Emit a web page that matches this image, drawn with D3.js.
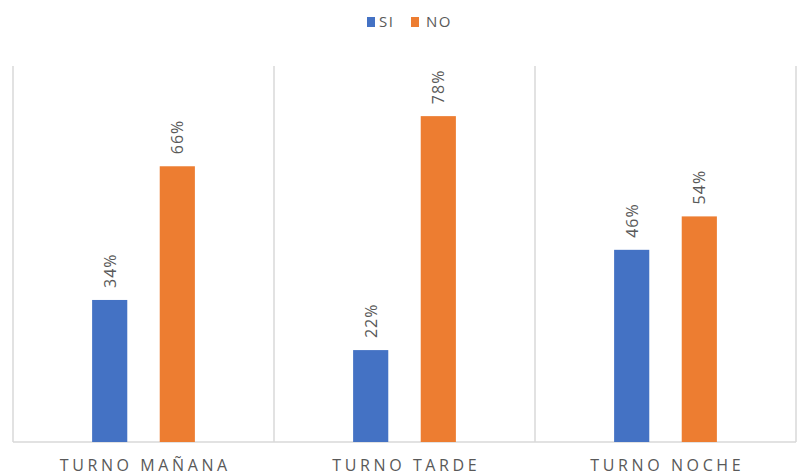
<!DOCTYPE html>
<html>
<head>
<meta charset="utf-8">
<script src="https://cdn.jsdelivr.net/npm/d3@7"></script>
<style>
  body { margin: 0; background: #fff; }
  svg { display: block; font-family: "Open Sans", "Liberation Sans", sans-serif; }
</style>
</head>
<body>
<svg id="chart" width="797" height="475"></svg>
<script>
// Survey answers by shift
const categories = ["TURNO MAÑANA", "TURNO TARDE", "TURNO NOCHE"];
const series = ["SI", "NO"];
const siValues = [0.34, 0.22, 0.46];
const noValues = [0.66, 0.78, 0.54];
const colors = ["#4472C4", "#ED7D31"];

const svg = d3.select("#chart");
const plotLeft = 13, plotRight = 796, plotTop = 66, plotBottom = 442;

const x0 = d3.scaleBand().domain(categories).range([plotLeft, plotRight]).padding(0);
const x1 = d3.scaleBand().domain(series).range([0, x0.bandwidth()])
  .paddingInner(0.48).paddingOuter(1.17);
const y = d3.scaleLinear().domain([0, 0.9]).range([plotBottom, plotTop]);

const grid = "#d9d9d9";

// vertical separators between categories
const edges = categories.map(c => x0(c)).concat([plotRight]);
svg.append("g").selectAll("line").data(edges).join("line")
  .attr("x1", d => d).attr("x2", d => d)
  .attr("y1", plotTop).attr("y2", plotBottom)
  .attr("stroke", grid).attr("stroke-width", 1.5);

// baseline
svg.append("line")
  .attr("x1", plotLeft).attr("x2", plotRight)
  .attr("y1", plotBottom).attr("y2", plotBottom)
  .attr("stroke", grid).attr("stroke-width", 1.5);

const rows = categories.map((c, i) => ({ cat: c, vals: [siValues[i], noValues[i]] }));

const groups = svg.append("g").selectAll("g").data(rows).join("g")
  .attr("transform", d => `translate(${x0(d.cat)},0)`);

groups.selectAll("rect")
  .data(d => d.vals.map((v, j) => ({ key: series[j], v, j })))
  .join("rect")
  .attr("x", d => x1(d.key))
  .attr("width", x1.bandwidth())
  .attr("y", d => y(d.v))
  .attr("height", d => plotBottom - y(d.v))
  .attr("fill", d => colors[d.j]);

// rotated value labels
groups.selectAll("text.val")
  .data(d => d.vals.map((v, j) => ({ key: series[j], v, j })))
  .join("text")
  .attr("class", "val")
  .attr("transform", d => `translate(${x1(d.key) + x1.bandwidth() / 2 + 6},${y(d.v) - 12}) rotate(-90)`)
  .attr("text-anchor", "start")
  .attr("font-size", 16)
  .attr("letter-spacing", "1px")
  .attr("fill", "#595959")
  .text(d => Math.round(d.v * 100) + "%");

// category labels
const catSpacing = 3.6;
svg.append("g").selectAll("text").data(categories).join("text")
  .attr("x", d => x0(d) + x0.bandwidth() / 2 + catSpacing / 2)
  .attr("y", 471)
  .attr("text-anchor", "middle")
  .attr("font-size", 16)
  .attr("letter-spacing", catSpacing + "px")
  .attr("fill", "#595959")
  .text(d => d);

// legend
const legend = svg.append("g");
const legendItems = [{ name: "SI", x: 367, tx: 379 }, { name: "NO", x: 411, tx: 426 }];
legendItems.forEach((it, i) => {
  legend.append("rect").attr("x", it.x).attr("y", 17).attr("width", 8).attr("height", 10)
    .attr("fill", colors[i]);
  legend.append("text").attr("x", it.tx).attr("y", 27)
    .attr("font-size", 15).attr("letter-spacing", "1.5px")
    .attr("fill", "#595959").text(it.name);
});
</script>
</body>
</html>
